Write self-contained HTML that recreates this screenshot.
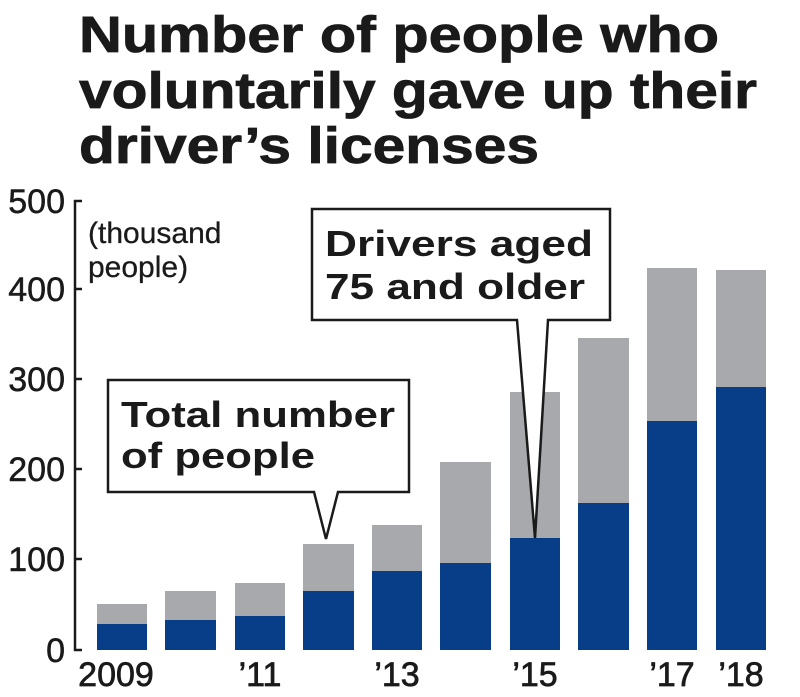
<!DOCTYPE html>
<html><head><meta charset="utf-8"><style>
html,body{margin:0;padding:0;background:#fff;}
svg{display:block;}
text{font-family:"Liberation Sans",Arial,sans-serif;fill:#1a1a1a;}
</style></head><body>
<svg width="800" height="697" viewBox="0 0 800 697" xmlns="http://www.w3.org/2000/svg">
<g font-weight="bold" font-size="51" stroke="#1a1a1a" stroke-width="0.8">
<text x="79" y="52" textLength="640" lengthAdjust="spacingAndGlyphs">Number of people who</text>
<text x="79" y="108" textLength="678" lengthAdjust="spacingAndGlyphs">voluntarily gave up their</text>
<text x="79" y="163" textLength="460" lengthAdjust="spacingAndGlyphs">driver’s licenses</text>
</g>
<g fill="#a7a9ac">
<rect x="97" y="604" width="50" height="46"/>
<rect x="165" y="591" width="51" height="59"/>
<rect x="235" y="583" width="50" height="67"/>
<rect x="303" y="544" width="51" height="106"/>
<rect x="372" y="525" width="50" height="125"/>
<rect x="440" y="462" width="51" height="188"/>
<rect x="510" y="392" width="50" height="258"/>
<rect x="578" y="338" width="51" height="312"/>
<rect x="647" y="268" width="50" height="382"/>
<rect x="716" y="270" width="50" height="380"/>
</g>
<g fill="#073e87">
<rect x="97" y="624" width="50" height="26"/>
<rect x="165" y="620" width="51" height="30"/>
<rect x="235" y="616" width="50" height="34"/>
<rect x="303" y="591" width="51" height="59"/>
<rect x="372" y="571" width="50" height="79"/>
<rect x="440" y="563" width="51" height="87"/>
<rect x="510" y="538" width="50" height="112"/>
<rect x="578" y="503" width="51" height="147"/>
<rect x="647" y="421" width="50" height="229"/>
<rect x="716" y="387" width="50" height="263"/>
</g>
<g stroke="#1a1a1a" stroke-width="2.5" fill="none">
<line x1="75" y1="200" x2="75" y2="651"/>
<line x1="74" y1="201" x2="82" y2="201"/>
<line x1="74" y1="289" x2="82" y2="289"/>
<line x1="74" y1="379" x2="82" y2="379"/>
<line x1="74" y1="469" x2="82" y2="469"/>
<line x1="74" y1="559" x2="82" y2="559"/>
<line x1="74" y1="650" x2="82" y2="650"/>
</g>
<g font-size="34" text-anchor="end" stroke="#1a1a1a" stroke-width="0.5">
<text x="65" y="213">500</text>
<text x="65" y="301">400</text>
<text x="65" y="391">300</text>
<text x="65" y="481">200</text>
<text x="65" y="571">100</text>
<text x="65" y="662">0</text>
</g>
<g font-size="30" stroke="#1a1a1a" stroke-width="0.3">
<text x="88" y="243">(thousand</text>
<text x="88" y="277">people)</text>
</g>
<g font-size="34" text-anchor="middle" stroke="#1a1a1a" stroke-width="0.7">
<text x="116" y="686">2009</text>
<text x="260" y="686">’11</text>
<text x="397" y="686">’13</text>
<text x="535" y="686">’15</text>
<text x="672" y="686">’17</text>
<text x="741" y="686">’18</text>
</g>
<g stroke="#1a1a1a" stroke-width="2.5" fill="#fff" stroke-linejoin="miter">
<path d="M108,380 H409 V492 H338 L326,539 L314,492 H108 Z"/>
<path d="M312,209 H610 V320 H548 L535,538 L517,320 H312 Z"/>
</g>
<g font-size="36" font-weight="bold">
<text x="121" y="427" textLength="274" lengthAdjust="spacingAndGlyphs">Total number</text>
<text x="121" y="468" textLength="194" lengthAdjust="spacingAndGlyphs">of people</text>
<text x="325" y="256" textLength="268" lengthAdjust="spacingAndGlyphs">Drivers aged</text>
<text x="325" y="299" textLength="260" lengthAdjust="spacingAndGlyphs">75 and older</text>
</g>
</svg>
</body></html>
